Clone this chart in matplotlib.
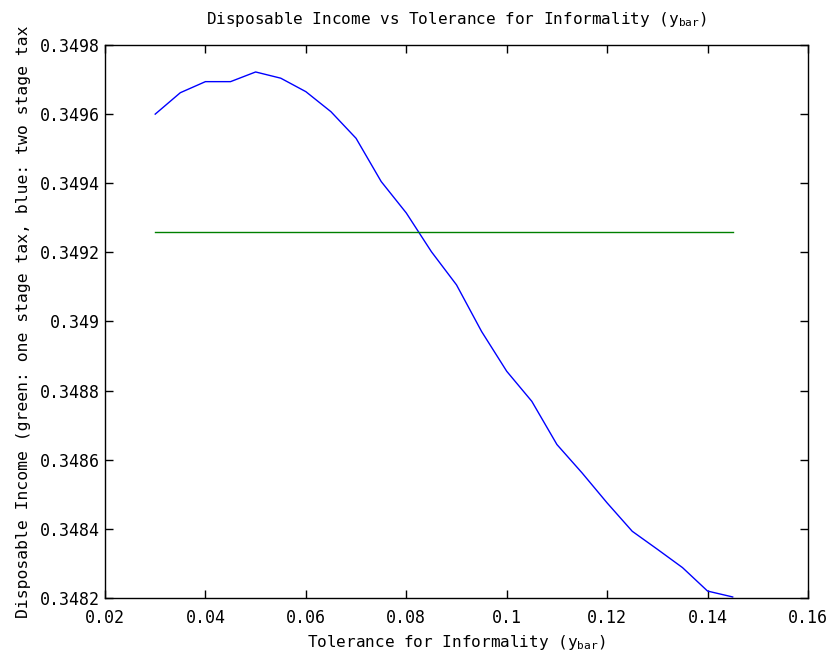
import numpy as np
import matplotlib
matplotlib.use("Agg")
import matplotlib.pyplot as plt

# tolerance grid (y_bar) and disposable income, two stage tax (blue)
y_bar = [0.030, 0.035, 0.040, 0.045, 0.050, 0.055, 0.060, 0.065, 0.070,
         0.075, 0.080, 0.085, 0.090, 0.095, 0.100, 0.105, 0.110, 0.115,
         0.120, 0.125, 0.130, 0.135, 0.140, 0.145]
income_two_stage = [0.349600, 0.349662, 0.349694, 0.349694, 0.349722,
                    0.349704, 0.349665, 0.349607, 0.349530, 0.349405,
                    0.349314, 0.349202, 0.349106, 0.348971, 0.348856,
                    0.348769, 0.348644, 0.348562, 0.348475, 0.348393,
                    0.348341, 0.348288, 0.348220, 0.348203]
# one stage tax (green) is flat
income_one_stage = 0.349260

x_ticks = [0.02, 0.04, 0.06, 0.08, 0.10, 0.12, 0.14, 0.16]
x_tick_labels = ["0.02", "0.04", "0.06", "0.08", "0.1", "0.12", "0.14", "0.16"]
y_ticks = [0.3482, 0.3484, 0.3486, 0.3488, 0.3490, 0.3492, 0.3494, 0.3496, 0.3498]
y_tick_labels = ["0.3482", "0.3484", "0.3486", "0.3488", "0.349",
                 "0.3492", "0.3494", "0.3496", "0.3498"]

plt.rcParams["font.family"] = ["DejaVu Sans Mono"]
plt.rcParams["mathtext.fontset"] = "custom"
plt.rcParams["mathtext.rm"] = "DejaVu Sans Mono"

fig = plt.figure(figsize=(8.30, 6.58), dpi=100)
ax = fig.add_axes([0.1265, 0.0912, 0.847, 0.8404])

ax.plot(y_bar, income_two_stage, color=(0, 0, 1), linewidth=1.0)
ax.plot([y_bar[0], y_bar[-1]], [income_one_stage, income_one_stage],
        color=(0, 0.5, 0), linewidth=1.0)

ax.set_xlim(0.02, 0.16)
ax.set_ylim(0.3482, 0.3498)
ax.set_xticks(x_ticks)
ax.set_xticklabels(x_tick_labels)
ax.set_yticks(y_ticks)
ax.set_yticklabels(y_tick_labels)
ax.tick_params(direction="in", length=6, width=1, top=True, right=True,
               labelsize=12)
ax.tick_params(axis="x", pad=8)
ax.tick_params(axis="y", pad=4)
for sp in ax.spines.values():
    sp.set_linewidth(1.0)

ax.set_title(r"Disposable Income vs Tolerance for Informality (y$_{\mathrm{bar}}$)",
             fontsize=11.5, pad=15)
ax.set_xlabel(r"Tolerance for Informality (y$_{\mathrm{bar}}$)", fontsize=11.5,
              labelpad=4)
ax.set_ylabel("Disposable Income (green: one stage tax, blue: two stage tax",
              fontsize=11.8, labelpad=6)

fig.savefig("out.png", dpi=100)
